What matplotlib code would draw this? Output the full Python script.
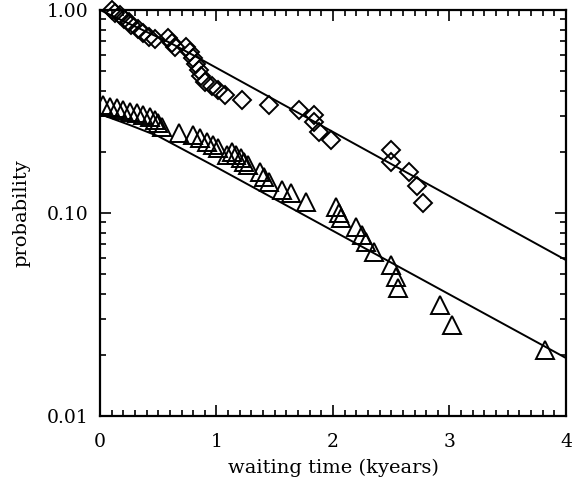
import numpy as np
from matplotlib import pyplot as plt
from matplotlib.ticker import MultipleLocator, LogLocator, FixedLocator, NullFormatter

# waiting-time survival data
diamond_t = [0.10, 0.13, 0.17, 0.21, 0.25, 0.27, 0.33, 0.37, 0.42, 0.47,
             0.58, 0.62, 0.64, 0.74, 0.77, 0.80, 0.82, 0.85, 0.87, 0.90,
             0.96, 1.01, 1.07, 1.22, 1.45, 1.71, 1.84, 1.84, 1.88, 1.98,
             2.50, 2.50, 2.65, 2.72, 2.77]
diamond_p = [1.00, 0.966, 0.944, 0.903, 0.873, 0.844, 0.806, 0.771, 0.736, 0.720,
             0.728, 0.688, 0.657, 0.657, 0.621, 0.580, 0.542, 0.506, 0.473, 0.442,
             0.422, 0.403, 0.381, 0.360, 0.340, 0.322, 0.304, 0.281, 0.251, 0.229,
             0.204, 0.178, 0.159, 0.136, 0.112]

triangle_t = [0.03, 0.09, 0.15, 0.20, 0.26, 0.32, 0.37, 0.43, 0.47, 0.50,
              0.53, 0.68, 0.80, 0.86, 0.92, 0.97, 1.01, 1.09, 1.13, 1.17,
              1.21, 1.24, 1.27, 1.37, 1.41, 1.45, 1.56, 1.64, 1.77, 2.03,
              2.05, 2.07, 2.20, 2.25, 2.28, 2.35, 2.50, 2.54, 2.56, 2.92,
              3.02, 3.82]
triangle_p = [0.340, 0.333, 0.329, 0.322, 0.315, 0.311, 0.304, 0.297, 0.287, 0.277,
              0.265, 0.248, 0.242, 0.234, 0.224, 0.216, 0.209, 0.193, 0.200, 0.193,
              0.187, 0.178, 0.172, 0.159, 0.150, 0.142, 0.130, 0.126, 0.113, 0.107,
              0.100, 0.0945, 0.0853, 0.078, 0.072, 0.0643, 0.0554, 0.0484, 0.0427, 0.0352,
              0.0281, 0.0211]

# model curves
fit1_t = [0.0, 0.3, 0.6, 0.88, 4.0]
fit1_p = [1.0, 0.83, 0.69, 0.566, 0.0586]
fit2_t = [0.0, 0.25, 0.5, 1.0, 4.0]
fit2_p = [0.307, 0.272, 0.239, 0.168, 0.0193]

plt.rcParams['font.family'] = 'DejaVu Serif'

fig = plt.figure(figsize=(5.72, 4.83), dpi=100)
ax = fig.add_axes([0.1748, 0.1387, 0.8147, 0.8406])

ax.plot(fit1_t, fit1_p, 'k-', lw=1.4)
ax.plot(fit2_t, fit2_p, 'k-', lw=1.4)
ax.plot(diamond_t, diamond_p, 'D', ms=9, mfc='none', mec='k', mew=1.4, clip_on=False)
ax.plot(triangle_t, triangle_p, '^', ms=13, mfc='none', mec='k', mew=1.4)

ax.set_yscale('log')
ax.set_xlim(0, 4)
ax.set_ylim(0.01, 1.0)

ax.xaxis.set_major_locator(MultipleLocator(1))
ax.xaxis.set_major_formatter('{x:.0f}')
ax.xaxis.set_minor_locator(MultipleLocator(0.1))
ax.yaxis.set_major_locator(FixedLocator([0.01, 0.1, 1.0]))
ax.yaxis.set_major_formatter(plt.FuncFormatter(lambda v, pos: f'{v:.2f}'))
ax.yaxis.set_minor_locator(LogLocator(base=10, subs=np.arange(2, 10)))
ax.yaxis.set_minor_formatter(NullFormatter())

ax.tick_params(which='both', direction='in', top=True, right=True, labelsize=13.5, width=1.2)
ax.tick_params(which='major', length=8)
ax.tick_params(which='minor', length=4)
ax.tick_params(axis='x', which='major', pad=12)
ax.tick_params(axis='y', which='major', pad=8)
for s in ax.spines.values():
    s.set_linewidth(1.6)

ax.set_xlabel('waiting time (kyears)', fontsize=14, labelpad=6)
ax.set_ylabel('probability', fontsize=14, labelpad=12)

fig.savefig('out.png', dpi=100)
